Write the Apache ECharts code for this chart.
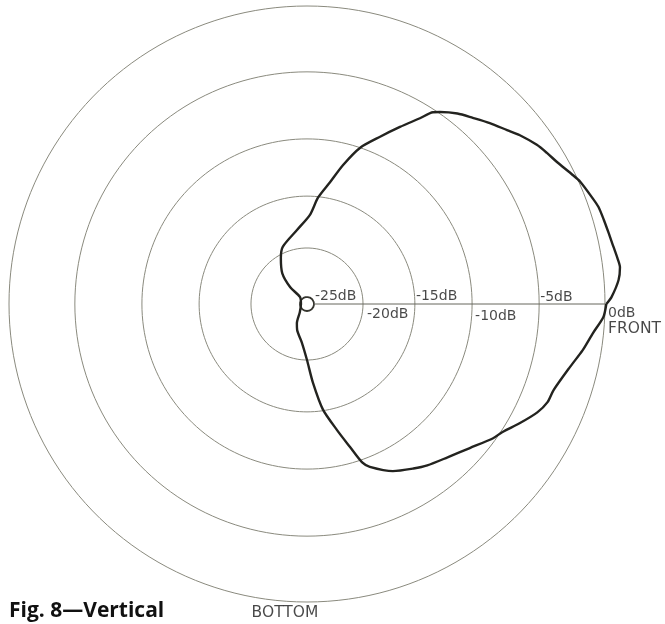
<!DOCTYPE html>
<html>
<head>
<meta charset="utf-8">
<script src="https://cdn.jsdelivr.net/npm/echarts@6/dist/echarts.min.js"></script>
<style>
html,body{margin:0;padding:0;background:#fff;}
#chart{width:665px;height:624px;}
</style>
</head>
<body>
<div id="chart"></div>
<script>
// dB scale of the chart (non-linear): level of each ring and its relative radius
const ringDb = [-25, -20, -15, -10, -5, 0];
const ringPos = [0.0235, 0.188, 0.362, 0.554, 0.779, 1.0];
const ringLabels = ['-25dB', '-20dB', '-15dB', '-10dB', '-5dB', '0dB'];

// response curve: angle (deg, 0 = front, counter-clockwise, 90 = top) and level (dB)
const angles = [0, 1.3, 4.4, 6.7, 8.4, 11.3, 13.3, 15.8, 18.4, 20.3, 24.1, 25.9, 29.6, 32.2, 34.7,
  38.4, 41.0, 44.7, 48.3, 51.7, 55.3, 56.7, 58.7, 62.3, 66.4, 71.2, 75.5, 79.3, 84.1, 88.1,
  97.7, 112.8, 119.5, 128.9, 135, 135, 180, 228.8, 242.2, 249.0, 262.7, 270, 274.3, 278.6,
  283.4, 286.7, 289.2, 291.1, 297.2, 302.9, 306.7, 312.5, 318.5, 324.2, 326.7, 330.8, 334.8,
  337.8, 340.7, 346.5, 350.5, 354.2, 357.5, 360];
const levels = [0.1, 0.5, 1.1, 1.3, 1.2, 1.0, 0.9, 0.8, 0.7, 0.5, 0.1, -0.2, -0.8, -1.1, -1.4,
  -2.0, -2.5, -3.1, -3.7, -4.2, -4.9, -5.2, -6.1, -7.4, -8.7, -10.0, -11.9, -13.6, -15.1, -16.8,
  -18.2, -19.4, -20.3, -21.7, -23.3, -24.7, -25.7, -24.6, -23.5, -22.9, -21.7, -20.0, -17.8, -15.1,
  -13.1, -11.4, -9.8, -9.3, -8.3, -7.7, -7.3, -6.8, -6.1, -5.2, -4.9, -4.1, -3.3,
  -2.9, -2.8, -2.1, -1.4, -0.8, -0.1, 0.1];

// map a dB level onto the chart's ring scale (piecewise between rings)
function dbToPos(db) {
  if (db <= ringDb[0]) {
    // inside the innermost ring: centre taken as -30 dB
    return Math.max(0, (db + 30) / 5) * ringPos[0];
  }
  for (let i = 1; i < ringDb.length; i++) {
    if (db <= ringDb[i]) {
      const t = (db - ringDb[i - 1]) / (ringDb[i] - ringDb[i - 1]);
      return ringPos[i - 1] + t * (ringPos[i] - ringPos[i - 1]);
    }
  }
  const n = ringDb.length - 1;
  const slope = (ringPos[n] - ringPos[n - 1]) / (ringDb[n] - ringDb[n - 1]);
  return ringPos[n] + (db - ringDb[n]) * slope;
}

const curve = angles.map((a, i) => [dbToPos(levels[i]), a]);

const circleAngles = [];
for (let a = 0; a <= 360; a += 2) circleAngles.push(a);

const series = [];
ringPos.forEach((p, i) => {
  series.push({
    type: 'line', coordinateSystem: 'polar', symbol: 'none', silent: true, z: 1,
    lineStyle: { color: i === 0 ? '#35352f' : '#8a8a7e', width: i === 0 ? 1.8 : 1 },
    data: circleAngles.map(a => [p, a])
  });
});
// horizontal reference axis toward the front
series.push({
  type: 'line', coordinateSystem: 'polar', symbol: 'none', silent: true, z: 1,
  lineStyle: { color: '#66665d', width: 1 },
  data: [[ringPos[0], 0], [ringPos[ringPos.length - 1], 0]]
});
// ring labels
const offsets = [[1, -8], [4, 10], [1, -8], [3, 12], [1, -7], [3, 9]];
const labelFont = { fontFamily: 'DejaVu Sans', fontSize: 14, color: '#1a1a1a' };
series.push({
  type: 'scatter', coordinateSystem: 'polar', symbolSize: 0, silent: true, z: 5,
  data: ringPos.map((p, i) => ({
    value: [p, 0],
    label: {
      show: true, position: 'right', distance: 0, offset: offsets[i],
      formatter: ringLabels[i]
    }
  })),
  label: labelFont
});
// direction labels
series.push({
  type: 'scatter', coordinateSystem: 'polar', symbolSize: 0, silent: true, z: 5,
  data: [
    { value: [1, 0], label: { show: true, position: 'right', distance: 0, offset: [3, 25], formatter: 'FRONT', fontSize: 15.5 } },
    { value: [1, 270], label: { show: true, position: 'bottom', distance: 0, offset: [-22, 3], formatter: 'BOTTOM', fontSize: 15.5 } }
  ],
  label: labelFont
});
// measured response
series.push({
  type: 'line', coordinateSystem: 'polar', symbol: 'none', silent: true, z: 10,
  smooth: 0.25,
  lineStyle: { color: '#23231f', width: 2.4 },
  data: curve
});

const chart = echarts.init(document.getElementById('chart'), null, { renderer: 'canvas' });
chart.setOption({
  backgroundColor: '#ffffff',
  animation: false,
  title: {
    text: 'Fig. 8\u2014Vertical', left: 4, top: 596,
    textStyle: { fontFamily: 'Open Sans', fontWeight: 'bold', fontSize: 21, color: '#111' }
  },
  polar: { center: [307, 304], radius: 298 * 1.1 },
  angleAxis: {
    type: 'value', min: 0, max: 360, startAngle: 0, clockwise: false,
    show: false, axisLine: { show: false }, splitLine: { show: false }, axisTick: { show: false }, axisLabel: { show: false }
  },
  radiusAxis: {
    type: 'value', min: 0, max: 1.1,
    show: false, axisLine: { show: false }, splitLine: { show: false }, axisTick: { show: false }, axisLabel: { show: false }
  },
  series: series
});
</script>
</body>
</html>
